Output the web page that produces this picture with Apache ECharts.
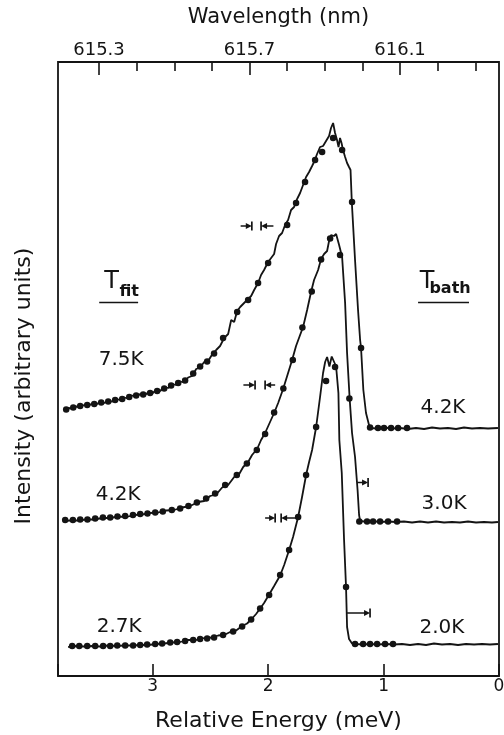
<!DOCTYPE html>
<html>
<head>
<meta charset="utf-8">
<script src="https://cdn.jsdelivr.net/npm/echarts@6/dist/echarts.min.js"></script>
<style>
  html, body { margin: 0; padding: 0; background: #fff; }
  #chart { width: 504px; height: 735px; }
</style>
</head>
<body>
<div id="chart"></div>
<script>
// Luminescence line shapes at three bath temperatures.
// x: relative energy (meV, decreasing to the right); y: intensity (arbitrary units),
// the three traces are stacked with vertical offsets.

const energyTicks = [0, 1, 2, 3];
const wavelengthMajor = [615.3, 615.7, 616.1];
const wavelengthMinor = [615.4, 615.5, 615.6, 615.8, 615.9, 616.0, 616.2, 616.3];

// ---- lowest trace: fit 2.7 K, bath 2.0 K ----
const spec20 = [
  [3.732,5.8],[3.662,6.0],[3.593,5.9],[3.524,6.0],[3.455,5.9],[3.385,6.1],[3.316,6.0],[3.247,6.1],
  [3.177,6.1],[3.108,6.2],[3.039,6.2],[2.970,6.4],[2.900,6.5],[2.831,6.7],[2.762,6.8],[2.693,7.2],
  [2.623,7.2],[2.554,7.6],[2.485,7.7],[2.433,8.1],[2.381,8.2],[2.329,8.8],[2.277,9.1],[2.225,10.0],
  [2.182,10.5],[2.139,11.5],[2.104,12.4],[2.069,13.5],[2.035,14.6],[1.991,16.3],[1.948,18.0],[1.896,20.1],
  [1.861,22.2],[1.818,25.2],[1.784,27.8],[1.740,31.8],[1.706,35.8],[1.671,40.2],[1.645,42.8],[1.619,45.2],
  [1.584,49.8],[1.550,55.8],[1.524,60.6],[1.506,62.8],[1.489,63.8],[1.469,61.9],[1.449,63.9],[1.435,64.2],
  [1.411,61.9],[1.391,56.6],[1.383,47.2],[1.362,40.6],[1.342,27.2],[1.325,17.8],[1.316,9.8],[1.299,7.4],
  [1.273,6.5],[1.238,6.4],[1.186,6.3],[1.117,6.4],[1.048,6.3],[0.978,6.4],[0.909,6.3],[0.840,6.4],
  [0.771,6.2],[0.701,6.4],[0.632,6.2],[0.563,6.5],[0.494,6.3],[0.424,6.4],[0.355,6.2],[0.286,6.4],
  [0.216,6.3],[0.147,6.4],[0.078,6.3],[0.009,6.4]
];
const fit27 = [
  [3.697,6.0],[3.636,6.0],[3.567,6.0],[3.498,6.0],[3.429,6.0],[3.368,6.0],[3.307,6.1],[3.238,6.1],
  [3.169,6.1],[3.108,6.2],[3.048,6.3],[2.978,6.4],[2.918,6.5],[2.848,6.7],[2.788,6.8],[2.719,7.0],
  [2.649,7.2],[2.589,7.4],[2.528,7.5],[2.468,7.7],[2.390,8.2],[2.303,8.9],[2.225,9.9],[2.147,11.3],
  [2.069,13.5],[1.991,16.2],[1.896,20.2],[1.818,25.2],[1.740,31.8],[1.671,40.2],[1.584,49.8],[1.498,59.0],
  [1.420,61.8],[1.325,17.8],[1.247,6.4],[1.177,6.4],[1.117,6.4],[1.056,6.4],[0.987,6.4],[0.918,6.4]
];

// ---- middle trace: fit 4.2 K, bath 3.0 K ----
const spec30 = [
  [3.775,31.0],[3.714,31.1],[3.645,31.1],[3.576,31.3],[3.506,31.3],[3.437,31.6],[3.368,31.6],[3.299,31.9],
  [3.229,31.8],[3.160,32.2],[3.091,32.3],[3.022,32.6],[2.952,32.7],[2.883,33.1],[2.814,33.2],[2.745,33.7],
  [2.675,34.0],[2.606,34.8],[2.554,35.0],[2.502,36.0],[2.450,36.3],[2.398,37.7],[2.346,38.2],[2.294,39.8],
  [2.260,40.0],[2.216,41.8],[2.173,42.8],[2.139,44.2],[2.095,45.4],[2.061,47.2],[2.026,48.6],[1.991,50.4],
  [1.948,52.6],[1.913,54.6],[1.870,57.4],[1.835,60.0],[1.792,63.2],[1.758,66.0],[1.723,68.2],[1.697,69.8],
  [1.662,73.2],[1.628,76.8],[1.602,79.2],[1.567,81.2],[1.541,83.4],[1.515,84.4],[1.506,84.8],[1.489,85.0],
  [1.472,87.0],[1.455,88.2],[1.429,88.0],[1.411,88.4],[1.385,86.2],[1.359,83.8],[1.333,74.6],[1.316,64.6],
  [1.294,55.6],[1.273,48.6],[1.247,43.8],[1.225,37.2],[1.212,32.2],[1.203,31.0],[1.169,30.9],[1.100,31.0],
  [1.030,30.8],[0.961,30.9],[0.892,30.8],[0.823,30.9],[0.753,30.7],[0.684,30.9],[0.615,30.7],[0.545,30.9],
  [0.476,30.7],[0.407,30.8],[0.338,30.7],[0.268,30.9],[0.199,30.7],[0.130,30.8],[0.061,30.7],[0.009,30.8]
];
const fit42 = [
  [3.758,31.2],[3.691,31.2],[3.628,31.3],[3.565,31.3],[3.498,31.5],[3.431,31.7],[3.368,31.7],[3.305,31.9],
  [3.238,32.0],[3.171,32.2],[3.108,32.4],[3.045,32.5],[2.978,32.7],[2.912,32.9],[2.834,33.2],[2.762,33.5],
  [2.690,34.0],[2.617,34.7],[2.537,35.5],[2.459,36.5],[2.372,38.2],[2.271,40.2],[2.184,42.5],[2.098,45.2],
  [2.026,48.4],[1.948,52.7],[1.868,57.5],[1.786,63.2],[1.703,69.7],[1.622,76.9],[1.541,83.3],[1.463,87.5],
  [1.377,84.2],[1.296,55.5],[1.210,30.9],[1.143,30.9],[1.091,30.9],[1.030,30.9],[0.961,30.9],[0.883,30.9]
];

// ---- top trace: fit 7.5 K, bath 4.2 K ----
const spec42 = [
  [3.766,53.1],[3.732,53.6],[3.697,53.5],[3.662,53.9],[3.628,53.8],[3.593,54.2],[3.558,54.0],[3.524,54.5],
  [3.489,54.3],[3.455,54.8],[3.420,54.6],[3.385,55.0],[3.351,54.9],[3.316,55.4],[3.281,55.2],[3.247,55.7],
  [3.212,55.5],[3.177,56.1],[3.143,55.8],[3.108,56.4],[3.074,56.1],[3.039,56.7],[3.004,56.5],[2.970,57.2],
  [2.935,57.0],[2.900,57.8],[2.866,57.6],[2.831,58.4],[2.797,58.2],[2.762,58.9],[2.727,58.7],[2.693,59.7],
  [2.658,60.0],[2.623,61.4],[2.589,61.7],[2.554,62.8],[2.519,63.0],[2.485,64.3],[2.450,65.2],[2.416,66.0],
  [2.381,67.6],[2.346,68.4],[2.320,71.2],[2.294,70.8],[2.268,73.0],[2.242,73.8],[2.208,74.6],[2.173,75.4],
  [2.147,76.0],[2.121,77.2],[2.087,78.6],[2.061,80.2],[2.035,81.2],[2.000,82.8],[1.974,83.6],[1.948,84.4],
  [1.931,86.4],[1.905,88.0],[1.879,88.6],[1.853,90.2],[1.827,91.2],[1.801,93.2],[1.775,93.8],[1.749,95.4],
  [1.723,96.6],[1.697,98.2],[1.671,99.8],[1.645,100.8],[1.619,102.0],[1.602,102.8],[1.576,104.4],[1.550,105.8],
  [1.524,106.0],[1.498,107.0],[1.472,108.0],[1.455,109.6],[1.437,110.6],[1.420,108.6],[1.403,107.2],[1.390,105.8],
  [1.377,107.6],[1.364,106.6],[1.351,105.2],[1.333,103.8],[1.316,102.6],[1.299,101.8],[1.286,101.2],[1.275,94.8],
  [1.247,83.2],[1.221,73.2],[1.203,67.2],[1.195,65.6],[1.175,57.2],[1.152,52.6],[1.126,50.2],[1.108,49.6],
  [1.065,49.5],[0.996,49.7],[0.926,49.5],[0.857,49.6],[0.788,49.4],[0.719,49.6],[0.649,49.4],[0.580,49.7],
  [0.511,49.5],[0.442,49.6],[0.372,49.4],[0.303,49.7],[0.234,49.5],[0.165,49.6],[0.095,49.5],[0.009,49.6]
];
const fit75 = [
  [3.749,53.3],[3.688,53.7],[3.628,54.0],[3.567,54.2],[3.506,54.4],[3.446,54.7],[3.385,54.9],[3.325,55.2],
  [3.264,55.4],[3.203,55.8],[3.143,56.1],[3.082,56.3],[3.022,56.6],[2.961,57.0],[2.900,57.5],[2.840,58.1],
  [2.779,58.6],[2.719,59.1],[2.649,60.5],[2.589,61.9],[2.528,62.9],[2.468,64.5],[2.390,67.6],[2.268,72.8],
  [2.173,75.2],[2.087,78.6],[2.000,82.6],[1.835,90.2],[1.758,94.6],[1.680,98.8],[1.593,103.2],[1.532,104.8],
  [1.437,107.6],[1.359,105.2],[1.273,94.8],[1.195,65.6],[1.117,49.7],[1.048,49.6],[0.996,49.6],[0.935,49.6],
  [0.874,49.6],[0.797,49.6]
];

// Spectral resolution markers: [tail energy, bar energy, intensity]
const resolutionMarks = [
  [2.238, 2.141, 90.0], [1.954, 2.061, 90.0],
  [2.214, 2.113, 58.2], [1.939, 2.026, 58.2],
  [2.026, 1.939, 31.6], [1.758, 1.887, 31.6],
  [1.229, 1.134, 38.7],
  [1.316, 1.117, 12.6]
];
// Column heading underlines: [from energy, to energy, intensity]
const headingRules = [[3.463, 3.126, 74.7], [0.701, 0.260, 74.7]];

// Temperature labels
const tempText = ['7.5K', '4.2K', '2.7K', '4.2K', '3.0K', '2.0K'];
const tempAnchor = [[3.273, 63.2], [3.299, 36.2], [3.290, 9.8], [0.485, 53.6], [0.476, 34.4], [0.494, 9.6]];
// Column headings: T with subscripts
const headText = ['T', 'fit', 'T', 'bath'];
const headAnchor = [[3.355, 78.9], [3.203, 76.9], [0.623, 78.9], [0.424, 77.4]];

const INK = '#141414';
const FONT = '"DejaVu Sans", sans-serif';

const chart = echarts.init(document.getElementById('chart'), null, { renderer: 'canvas' });

function markRenderer(params, api) {
  const a = api.coord([api.value(0), api.value(2)]);
  const b = api.coord([api.value(1), api.value(2)]);
  const dir = b[0] > a[0] ? 1 : -1;
  const al = 6, aw = 3, h = 4.5;
  return {
    type: 'group',
    children: [
      { type: 'line', shape: { x1: a[0], y1: a[1], x2: b[0] - dir * 2, y2: b[1] },
        style: { stroke: INK, lineWidth: 1.5 } },
      { type: 'polygon', shape: { points: [[b[0], b[1]], [b[0] - dir * al, b[1] - aw], [b[0] - dir * al, b[1] + aw]] },
        style: { fill: INK } },
      { type: 'line', shape: { x1: b[0], y1: b[1] - h, x2: b[0], y2: b[1] + h },
        style: { stroke: INK, lineWidth: 1.7 } }
    ]
  };
}

function ruleRenderer(params, api) {
  const a = api.coord([api.value(0), api.value(2)]);
  const b = api.coord([api.value(1), api.value(2)]);
  return { type: 'line', shape: { x1: a[0], y1: a[1], x2: b[0], y2: b[1] },
    style: { stroke: INK, lineWidth: 1.7 } };
}

function textRenderer(texts, sizes, weights) {
  return function (params, api) {
    const p = api.coord([api.value(0), api.value(1)]);
    const i = params.dataIndex;
    return {
      type: 'text', x: p[0], y: p[1],
      style: {
        text: texts[i], fill: INK,
        font: weights[i] + ' ' + sizes[i] + 'px ' + FONT,
        align: 'center', verticalAlign: 'middle'
      }
    };
  };
}

const lineStyle = { color: INK, width: 1.8 };
const dotStyle = { color: INK, opacity: 1 };

chart.setOption({
  animation: false,
  backgroundColor: '#fff',
  textStyle: { fontFamily: FONT, color: INK },
  grid: {
    left: 58, right: 5, top: 62, bottom: 59,
    outerBoundsMode: 'none', containLabel: false,
    show: true, borderColor: INK, borderWidth: 1.8, backgroundColor: 'transparent'
  },
  xAxis: [
    {
      type: 'value', position: 'bottom', inverse: true,
      min: 0, max: 3.82, interval: 1,
      name: 'Relative Energy (meV)', nameLocation: 'middle', nameGap: 34, nameMoveOverlap: false,
      nameTextStyle: { fontSize: 22, color: INK, fontFamily: FONT },
      axisLine: { show: false },
      axisTick: { show: true, inside: true, length: 12, lineStyle: { color: INK, width: 1.6 } },
      axisLabel: { color: INK, fontSize: 17, margin: 2, fontFamily: FONT,
        formatter: v => (energyTicks.indexOf(v) >= 0 ? String(v) : '') },
      splitLine: { show: false }
    },
    {
      type: 'value', position: 'top',
      min: 615.191, max: 616.363,
      name: 'Wavelength (nm)', nameLocation: 'middle', nameGap: 34, nameMoveOverlap: false,
      nameTextStyle: { fontSize: 21, color: INK, fontFamily: FONT },
      axisLine: { show: false },
      axisTick: { show: true, inside: true, length: 13, customValues: wavelengthMajor, lineStyle: { color: INK, width: 1.6 } },
      axisLabel: { color: INK, fontSize: 18, margin: 3, fontFamily: FONT, customValues: wavelengthMajor,
        formatter: v => v.toFixed(1) },
      splitLine: { show: false }
    },
    {
      type: 'value', position: 'top',
      min: 615.191, max: 616.363,
      axisLine: { show: false },
      axisTick: { show: true, inside: true, length: 9, customValues: wavelengthMinor, lineStyle: { color: INK, width: 1.6 } },
      axisLabel: { show: false },
      splitLine: { show: false }
    }
  ],
  yAxis: {
    type: 'value', min: 0, max: 122.8,
    axisLine: { show: false }, axisTick: { show: false }, axisLabel: { show: false }, splitLine: { show: false }
  },
  graphic: [{
    type: 'text', x: 24, y: 386, rotation: Math.PI / 2,
    style: { text: 'Intensity (arbitrary units)', fill: INK, font: '22px ' + FONT, align: 'center', verticalAlign: 'middle' }
  }],
  series: [
    { type: 'line', data: spec20, showSymbol: false, lineStyle, color: INK, silent: true },
    { type: 'line', data: spec30, showSymbol: false, lineStyle, color: INK, silent: true },
    { type: 'line', data: spec42, showSymbol: false, lineStyle, color: INK, silent: true },
    { type: 'scatter', data: fit27, symbolSize: 6.5, itemStyle: dotStyle, silent: true },
    { type: 'scatter', data: fit42, symbolSize: 6.5, itemStyle: dotStyle, silent: true },
    { type: 'scatter', data: fit75, symbolSize: 6.5, itemStyle: dotStyle, silent: true },
    { type: 'custom', data: resolutionMarks, encode: { x: [0, 1], y: 2 }, renderItem: markRenderer, silent: true },
    { type: 'custom', data: headingRules, encode: { x: [0, 1], y: 2 }, renderItem: ruleRenderer, silent: true },
    { type: 'custom', data: tempAnchor, encode: { x: 0, y: 1 }, silent: true,
      renderItem: textRenderer(tempText, [20, 20, 20, 20, 20, 20], ['normal', 'normal', 'normal', 'normal', 'normal', 'normal']) },
    { type: 'custom', data: headAnchor, encode: { x: 0, y: 1 }, silent: true,
      renderItem: textRenderer(headText, [24, 16, 24, 16], ['normal', 'bold', 'normal', 'bold']) }
  ]
});
</script>
</body>
</html>
